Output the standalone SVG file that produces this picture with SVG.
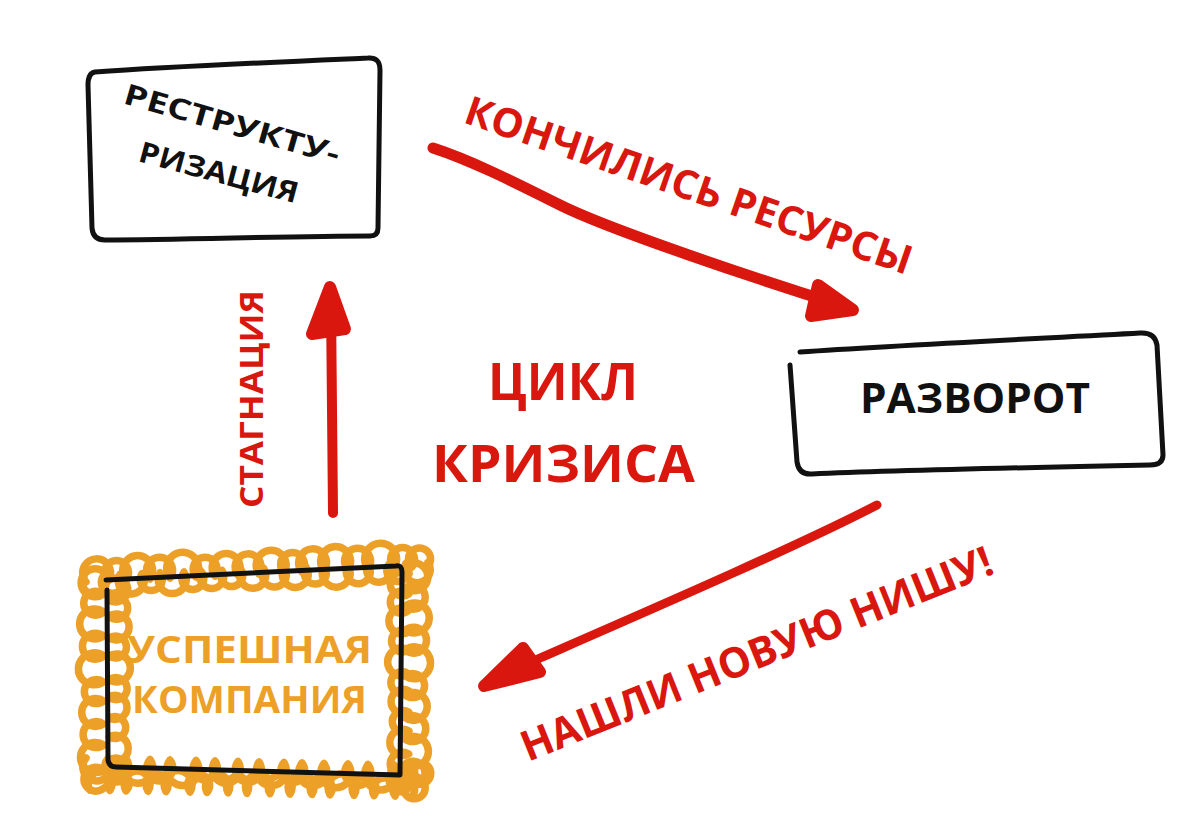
<svg xmlns="http://www.w3.org/2000/svg" width="1200" height="839" viewBox="0 0 1200 839">
<style>
.box{fill:none;stroke:#111;stroke-width:5;stroke-linecap:round;stroke-linejoin:round}
.lbl{font-family:"Open Sans","Noto Sans","DejaVu Sans",sans-serif;font-weight:700}
.red{fill:#d9170f}
.blk{fill:#111}
.org{fill:#eda027}
.shaft{fill:none;stroke:#d9170f;stroke-linecap:round;stroke-linejoin:round}
.head{fill:#d9170f;stroke:#d9170f;stroke-width:12;stroke-linejoin:round;stroke-linecap:round}
.coil{fill:none;stroke:#eda027;stroke-width:7.5;stroke-linecap:round;stroke-linejoin:round}
</style>
<rect width="1200" height="839" fill="#fff"/>

<g id="node-restructuring">
<path class="box" d="M95 72 C180 66 300 61 368 58 Q380 57 380 70 L378 228 Q378 236 370 236 C290 236 180 240 105 240 Q93 240 92 228 L88 85 Q88 73 95 72 Z"/>
<text class="lbl blk" font-size="29" textLength="223" lengthAdjust="spacingAndGlyphs" transform="translate(122,103) rotate(16)">РЕСТРУКТУ-</text>
<text class="lbl blk" font-size="29" textLength="164" lengthAdjust="spacingAndGlyphs" transform="translate(137,161) rotate(15)">РИЗАЦИЯ</text>
</g>

<g id="node-turnaround">
<path class="box" d="M790 365 L797 462 Q799 475 812 474 C900 470 1050 467 1150 465 Q1163 465 1163 455 L1157 345 Q1155 332 1140 333 C1050 338 900 345 800 352"/>
<text class="lbl blk" font-size="42" textLength="230" lengthAdjust="spacingAndGlyphs" x="860" y="413">РАЗВОРОТ</text>
</g>

<g id="node-successful">
<path class="coil" d="M86 582 a14 14 0 1 1 22 -1 a12 12 0 1 1 18 -1 a15 15 0 1 1 24 -1 a13 13 0 1 1 20 -1 a16 16 0 1 1 26 -1 a12 12 0 1 1 19 -1 a14 14 0 1 1 23 -1 a13 13 0 1 1 21 -1 a15 15 0 1 1 25 -1 a12 12 0 1 1 18 -1 a14 14 0 1 1 22 -1 a15 15 0 1 1 24 -1 a13 13 0 1 1 20 -1 a16 16 0 1 1 26 -1 a12 12 0 1 1 18 -1 a11 11 0 1 1 16 -1"/>
<path class="coil" d="M84 576 a12 12 0 1 0 20 -0.8 a11 11 0 1 0 16 -0.8 a13 13 0 1 0 22 -0.8 a11 11 0 1 0 18 -0.8 a14 14 0 1 0 24 -0.8 a11 11 0 1 0 17 -0.8 a12 12 0 1 0 21 -0.8 a11 11 0 1 0 19 -0.8 a13 13 0 1 0 23 -0.8 a12 12 0 1 0 20 -0.8 a13 13 0 1 0 22 -0.8 a11 11 0 1 0 18 -0.8 a14 14 0 1 0 24 -0.8 a12 12 0 1 0 20 -0.8 a12 12 0 1 0 21 -0.8 a11 11 0 1 0 17 -0.8 a13 13 0 1 0 22 -0.8"/>
<path class="coil" d="M86 758 a14 14 0 1 0 22 0.5 a12 12 0 1 0 18 0.5 a15 15 0 1 0 24 0.5 a13 13 0 1 0 20 0.5 a16 16 0 1 0 26 0.5 a12 12 0 1 0 19 0.5 a14 14 0 1 0 23 0.5 a13 13 0 1 0 21 0.5 a15 15 0 1 0 25 0.5 a12 12 0 1 0 18 0.5 a14 14 0 1 0 22 0.5 a15 15 0 1 0 24 0.5 a13 13 0 1 0 20 0.5 a16 16 0 1 0 26 0.5 a12 12 0 1 0 18 0.5 a11 11 0 1 0 16 0.5"/>
<path class="coil" d="M90 790 a12 12 0 1 1 20 0.4 a11 11 0 1 1 16 0.4 a13 13 0 1 1 22 0.4 a11 11 0 1 1 18 0.4 a14 14 0 1 1 24 0.4 a11 11 0 1 1 17 0.4 a12 12 0 1 1 21 0.4 a11 11 0 1 1 19 0.4 a13 13 0 1 1 23 0.4 a12 12 0 1 1 20 0.4 a13 13 0 1 1 22 0.4 a11 11 0 1 1 18 0.4 a14 14 0 1 1 24 0.4 a12 12 0 1 1 20 0.4 a12 12 0 1 1 21 0.4 a11 11 0 1 1 17 0.4"/>
<path class="coil" d="M104 572 a14 14 0 1 0 -0.5 22 a12 12 0 1 0 0.3 18 a15 15 0 1 0 -0.3 24 a13 13 0 1 0 0.4 20 a16 16 0 1 0 -0.4 26 a12 12 0 1 0 0.3 19 a14 14 0 1 0 -0.2 23 a13 13 0 1 0 0.3 21 a15 15 0 1 0 -0.2 25 a12 12 0 1 0 0.3 18"/>
<path class="coil" d="M109 580 a12 12 0 1 1 0.3 20 a11 11 0 1 1 -0.3 16 a13 13 0 1 1 0.3 22 a11 11 0 1 1 -0.3 18 a14 14 0 1 1 0.3 24 a11 11 0 1 1 -0.3 17 a12 12 0 1 1 0.3 21 a11 11 0 1 1 -0.3 19 a13 13 0 1 1 0.3 23 a12 12 0 1 1 -0.3 20"/>
<path class="coil" d="M405 566 a14 14 0 1 1 0.4 22 a12 12 0 1 1 -0.3 18 a15 15 0 1 1 0.3 24 a13 13 0 1 1 -0.4 20 a16 16 0 1 1 0.4 26 a12 12 0 1 1 -0.3 19 a14 14 0 1 1 0.2 23 a13 13 0 1 1 -0.3 21 a15 15 0 1 1 0.2 25 a12 12 0 1 1 -0.3 18 a11 11 0 1 1 0.2 12"/>
<path class="coil" d="M409 574 a12 12 0 1 0 -0.3 20 a11 11 0 1 0 0.3 16 a13 13 0 1 0 -0.3 22 a11 11 0 1 0 0.3 18 a14 14 0 1 0 -0.3 24 a11 11 0 1 0 0.3 17 a12 12 0 1 0 -0.3 21 a11 11 0 1 0 0.3 19 a13 13 0 1 0 -0.3 23 a12 12 0 1 0 0.3 20 a11 11 0 1 0 -0.3 14"/>
<path class="box" stroke-width="4" d="M107 590 L108 760 Q109 767 116 767 L400 775 L402 572 Q402 565 396 566 L106 580"/>
<text class="lbl org" font-size="38" textLength="245" lengthAdjust="spacingAndGlyphs" x="127" y="663">УСПЕШНАЯ</text>
<text class="lbl org" font-size="38" textLength="235" lengthAdjust="spacingAndGlyphs" x="132" y="713">КОМПАНИЯ</text>
</g>

<g id="connectors">
<path class="shaft" stroke-width="11" d="M433 148 C470 160 510 180 560 205 S760 280 840 305"/>
<path class="head" d="M818 285 L853 310 L811 316 Z"/>
<path class="shaft" stroke-width="9" d="M877 505 C800 545 650 610 540 658 L505 675"/>
<path class="head" d="M523 648 L484 686 L540 672 Z"/>
<path class="shaft" stroke-width="10" d="M333 513 L331 305"/>
<path class="head" d="M312 334 L330 287 L345 329 Z"/>
</g>

<g id="labels">
<text class="lbl red" font-size="40" textLength="470" lengthAdjust="spacingAndGlyphs" transform="translate(462,122) rotate(19)">КОНЧИЛИСЬ РЕСУРСЫ</text>
<text class="lbl red" font-size="42" textLength="505" lengthAdjust="spacingAndGlyphs" transform="translate(528,762) rotate(-22)">НАШЛИ НОВУЮ НИШУ!</text>
<text class="lbl red" font-size="33" textLength="218" lengthAdjust="spacingAndGlyphs" transform="translate(263,508) rotate(-90)">СТАГНАЦИЯ</text>
<text class="lbl red" font-size="52" textLength="150" lengthAdjust="spacingAndGlyphs" x="488" y="400">ЦИКЛ</text>
<text class="lbl red" font-size="52" textLength="263" lengthAdjust="spacingAndGlyphs" x="432" y="482">КРИЗИСА</text>
</g>
</svg>
